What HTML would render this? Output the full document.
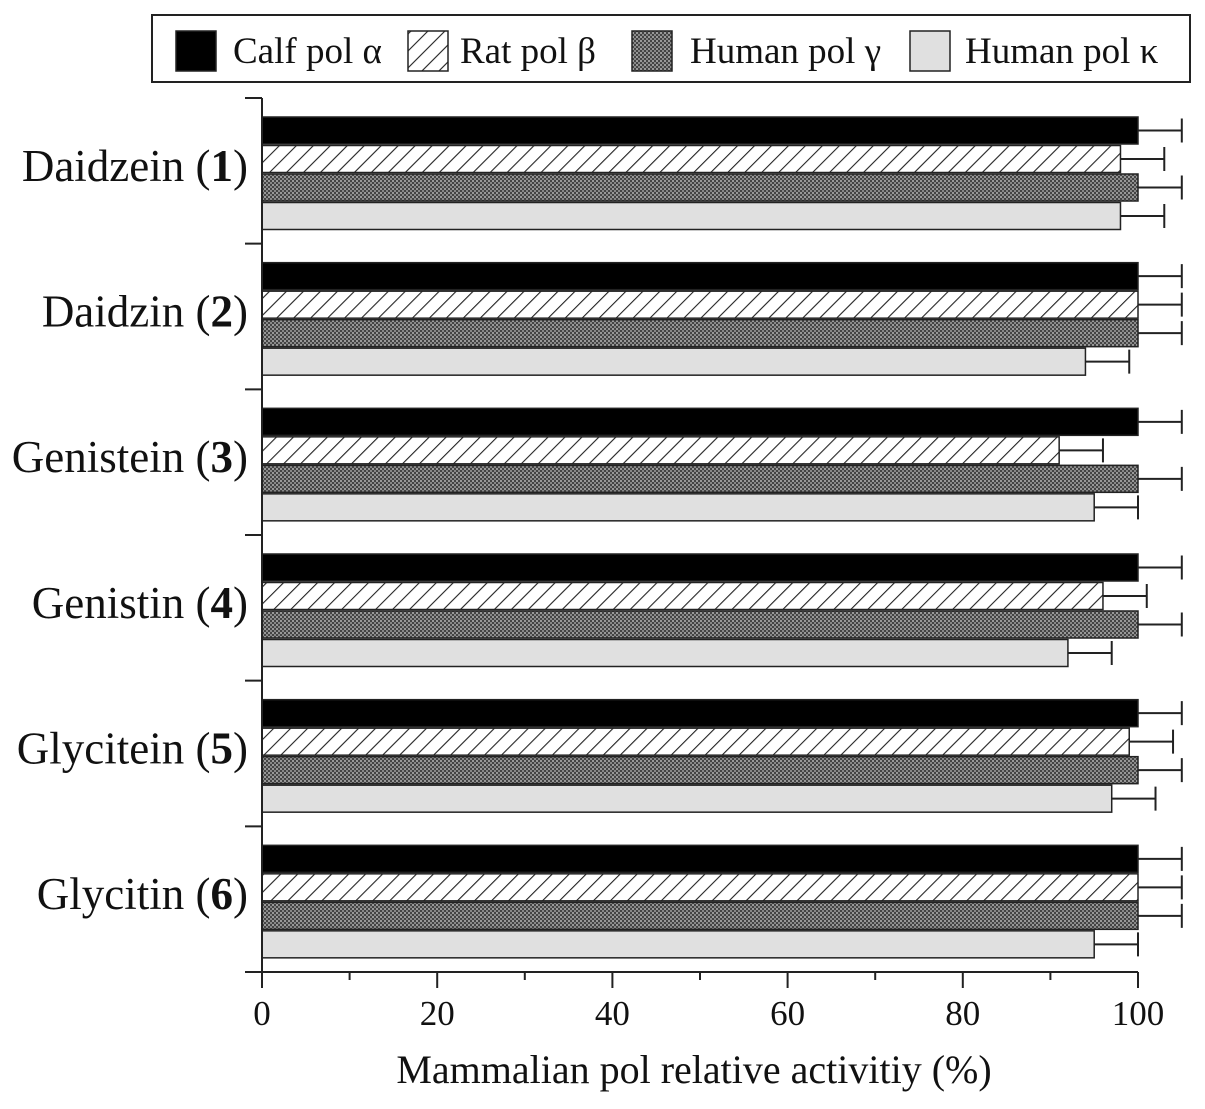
<!DOCTYPE html>
<html><head><meta charset="utf-8"><style>
body{margin:0;background:#fff;}
svg text{font-family:"Liberation Serif",serif;fill:#111;}
</style></head><body>
<svg id="c" width="1205" height="1104" xmlns="http://www.w3.org/2000/svg">
<defs>
<pattern id="hatch" patternUnits="userSpaceOnUse" width="12" height="12" patternTransform="rotate(45)">
<rect width="12" height="12" fill="#fff"/><line x1="0" y1="0" x2="0" y2="12" stroke="#222" stroke-width="2.2"/></pattern>
<pattern id="cross" patternUnits="userSpaceOnUse" width="4" height="4">
<rect width="4" height="4" fill="#444"/><rect width="2" height="2" fill="#999"/><rect x="2" y="2" width="2" height="2" fill="#888"/></pattern>
</defs>
<g id="legend">
<rect x="152" y="15" width="1038" height="67" fill="#fff" stroke="#222" stroke-width="2"/>
</g>
<g id="plot"></g>
</svg>
<script>
const categories=["Daidzein","Daidzin","Genistein","Genistin","Glycitein","Glycitin"];
const catNums=["1","2","3","4","5","6"];
const seriesNames=["Calf pol α","Rat pol β","Human pol γ","Human pol κ"];
const polAlpha=[100,100,100,100,100,100];
const polBeta=[98,100,91,96,99,100];
const polGamma=[100,100,100,100,100,100];
const polKappa=[98,94,95,92,97,95];
const errAlpha=[5,5,5,5,5,5];
const errBeta=[5,5,5,5,5,5];
const errGamma=[5,5,5,5,5,5];
const errKappa=[5,5,5,5,5,5];
const xTicks=[0,20,40,60,80,100];

const NS="http://www.w3.org/2000/svg";
const svg=document.getElementById('plot');
const leg=document.getElementById('legend');
const x0=262,x1=1138,yTop=98,yBot=972;
const xs=v=>x0+(v/100)*(x1-x0);
const groupH=(yBot-yTop)/categories.length;
const fills=["#000","url(#hatch)","url(#cross)","#e0e0e0"];
const series=[polAlpha,polBeta,polGamma,polKappa];
const errs=[errAlpha,errBeta,errGamma,errKappa];
function mk(t,a,p){const e=document.createElementNS(NS,t);for(const k in a)e.setAttribute(k,a[k]);(p||svg).appendChild(e);return e;}
// legend
const legX=[176,408,632,910],legTX=[233,460,690,965];
seriesNames.forEach((n,i)=>{
 const r=mk('rect',{x:legX[i],y:31,width:40,height:40,fill:fills[i],stroke:'#222','stroke-width':1.5},leg);
 
 
 const t=mk('text',{x:legTX[i],y:63,'font-size':37},leg);t.textContent=n;
 
 
});
// bars
const barH=28.5,off=19;
categories.forEach((c,ci)=>{
 const gy=yTop+ci*groupH;
 series.forEach((s,si)=>{
  const y=gy+off+si*barH;
  const r=mk('rect',{x:x0,y:y,width:xs(s[ci])-x0,height:barH-1.5,fill:fills[si],stroke:'#222','stroke-width':1.5});
  
  
  const ex=xs(s[ci]+errs[si][ci]),cy=y+(barH-1.5)/2;
  const e=mk('path',{d:`M${xs(s[ci])} ${cy}H${ex}M${ex} ${cy-12}V${cy+12}`,stroke:'#222','stroke-width':2,fill:'none'});
  
  
 });
 const t=mk('text',{x:248,y:gy+groupH/2+10,'font-size':45,'text-anchor':'end'});
 t.innerHTML=c+' (<tspan font-weight="bold">'+catNums[ci]+'</tspan>)';
 
 
});
// y axis
const ya=mk('line',{x1:x0,y1:yTop,x2:x0,y2:yBot,stroke:'#222','stroke-width':2});


for(let i=0;i<=categories.length;i++){const y=yTop+i*groupH;mk('line',{x1:245,y1:y,x2:x0,y2:y,stroke:'#222','stroke-width':2});}
// x axis
const xa=mk('line',{x1:x0,y1:yBot,x2:x1,y2:yBot,stroke:'#222','stroke-width':2});


for(let v=0;v<=100;v+=10){mk('line',{x1:xs(v),y1:yBot,x2:xs(v),y2:yBot+(v%20?8:16),stroke:'#222','stroke-width':2});}
xTicks.forEach(v=>{const t=mk('text',{x:xs(v),y:1025,'font-size':35,'text-anchor':'middle'});t.textContent=v;
 
 });
const xt=mk('text',{x:694,y:1083,'font-size':40,'text-anchor':'middle'});xt.textContent='Mammalian pol relative activitiy (%)';


</script>
</body></html>
